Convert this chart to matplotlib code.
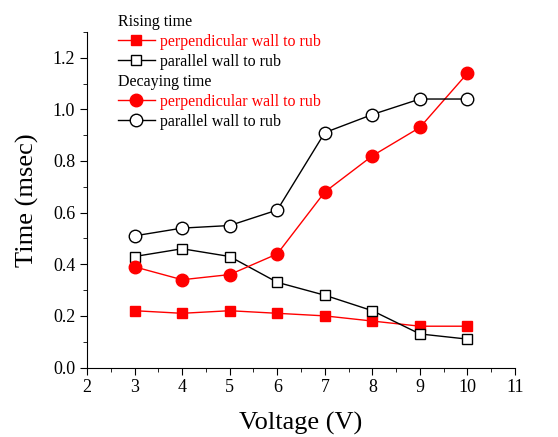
import numpy as np
import matplotlib
matplotlib.use("Agg")
import matplotlib.pyplot as plt
from matplotlib.ticker import MultipleLocator

plt.rcParams['font.family'] = ['Liberation Serif', 'DejaVu Serif']
plt.rcParams['mathtext.fontset'] = 'stix'

voltage = [3, 4, 5, 6, 7, 8, 9, 10]
rise_perp = [0.22, 0.21, 0.22, 0.21, 0.20, 0.18, 0.16, 0.16]
rise_para = [0.43, 0.46, 0.43, 0.33, 0.28, 0.22, 0.13, 0.11]
decay_perp = [0.39, 0.34, 0.36, 0.44, 0.68, 0.82, 0.93, 1.14]
decay_para = [0.51, 0.54, 0.55, 0.61, 0.91, 0.98, 1.04, 1.04]

fig = plt.figure(figsize=(5.58, 4.37), dpi=100)
ax = fig.add_axes([0.156, 0.159, 0.767, 0.768])

ms = 7.5
l1, = ax.plot(voltage, rise_perp, color='red', marker='s', ms=ms, lw=1,
              mfc='red', mec='red', label='perpendicular wall to rub')
l2, = ax.plot(voltage, rise_para, color='black', marker='s', ms=ms, lw=1,
              mfc='white', mec='black', label='parallel wall to rub')
l3, = ax.plot(voltage, decay_perp, color='red', marker='o', ms=ms + 1.5, lw=1,
              mfc='red', mec='red', label='perpendicular wall to rub')
l4, = ax.plot(voltage, decay_para, color='black', marker='o', ms=ms + 1.5, lw=1,
              mfc='white', mec='black', label='parallel wall to rub')

ax.set_xlim(2, 11)
ax.set_ylim(0, 1.3)
ax.xaxis.set_major_locator(MultipleLocator(1))
ax.xaxis.set_minor_locator(MultipleLocator(0.5))
ax.yaxis.set_major_locator(MultipleLocator(0.2))
ax.yaxis.set_minor_locator(MultipleLocator(0.1))
ax.yaxis.set_major_formatter(matplotlib.ticker.FormatStrFormatter('%.1f'))
ax.spines['top'].set_visible(False)
ax.spines['right'].set_visible(False)
ax.tick_params(which='major', direction='out', length=5, labelsize=13)
ax.tick_params(which='minor', direction='out', length=3)

ax.set_xlabel('Voltage (V)', fontsize=19, labelpad=11)
ax.set_ylabel('Time (msec)', fontsize=19, labelpad=10)

legkw = dict(loc='upper left', bbox_transform=fig.transFigure, frameon=False,
             fontsize=11.5, title_fontsize=11.5, alignment='left',
             handlelength=2.3, handletextpad=0.3, labelspacing=0.25,
             borderpad=0, borderaxespad=0, labelcolor=['red', 'black'])
leg1 = ax.legend(handles=[l1, l2], title='Rising time',
                 bbox_to_anchor=(0.2115, 0.968), **legkw)
ax.add_artist(leg1)
leg2 = ax.legend(handles=[l3, l4], title='Decaying time',
                 bbox_to_anchor=(0.2115, 0.8305), **legkw)

fig.savefig('out.png', dpi=100)
